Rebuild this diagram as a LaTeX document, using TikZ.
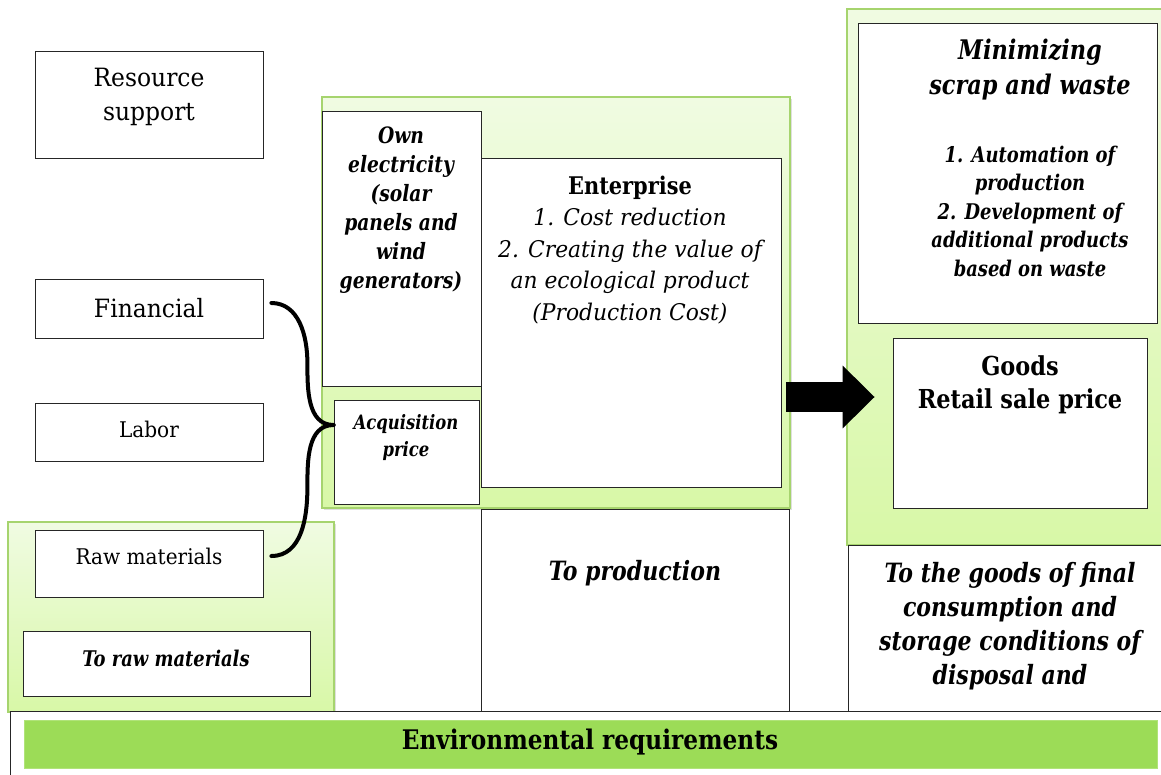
\documentclass[tikz,border=0pt]{standalone}
\usepackage{fontspec}
\setmainfont{DejaVu Serif}[Scale=0.9,
  UprightFeatures={FakeStretch=0.93},
  ItalicFeatures={FakeStretch=0.95},
  BoldFeatures={FakeStretch=0.86},
  BoldItalicFeatures={FakeStretch=0.83}]
\usetikzlibrary{arrows.meta,shadows}

\definecolor{panelTop}{HTML}{F0FBE2}
\definecolor{panelBot}{HTML}{D8F8A7}
\definecolor{panelLine}{HTML}{A6D46E}
\definecolor{envGreen}{HTML}{9CDC57}

\newcommand{\setfs}[2]{\fontsize{#1}{#2}\selectfont}

\tikzset{
  box/.style={draw=black!85, line width=0.8pt, fill=white, inner sep=0pt},
  panel/.style={draw=panelLine, line width=1.2pt, top color=panelTop, bottom color=panelBot, inner sep=0pt,
    drop shadow={shadow xshift=2pt, shadow yshift=-2pt, opacity=0.25}},
  lbl/.style={align=center, inner sep=0pt},
  brace/.style={line width=4pt, line cap=round},
  bigarrow/.style={line width=30pt, -{Triangle[length=32pt, width=61pt]}}
}

\begin{document}
\begin{tikzpicture}[x=1pt, y=-1pt]
\clip (0,0) rectangle (1161,775);

\node[panel, minimum width=326pt, minimum height=190pt] (leftpanel) at (171,617) {};
\node[panel, minimum width=468pt, minimum height=411pt] (midpanel) at (556,302.5) {};
\node[panel, minimum width=319pt, minimum height=536pt] (rightpanel) at (1006.5,277) {};

\node[box, minimum width=228pt, minimum height=107pt] (res) at (149,104.5) {};
\node[box, minimum width=228pt, minimum height=59pt] (fin) at (149,308.5) {};
\node[box, minimum width=228pt, minimum height=58pt] (lab) at (149,432) {};
\node[box, minimum width=228pt, minimum height=67pt] (raw) at (149,563.5) {};
\node[box, minimum width=287pt, minimum height=65pt] (toraw) at (166.5,663.5) {};

\node[box, minimum width=159pt, minimum height=275pt] (own) at (401.5,248.5) {};
\node[box, minimum width=145pt, minimum height=104pt] (acq) at (406.5,452) {};
\node[box, minimum width=300pt, minimum height=329pt] (ent) at (631,322.5) {};
\node[box, minimum width=308pt, minimum height=202pt] (toprod) at (635,610) {};

\node[box, minimum width=299pt, minimum height=300pt] (minim) at (1007.5,173) {};
\node[box, minimum width=254pt, minimum height=170pt] (goods) at (1020,423) {};
\node[box, minimum width=318pt, minimum height=166pt] (togoods) at (1007,628) {};

\node[box, minimum width=1156pt, minimum height=69pt] (envbox) at (588,745.5) {};
\node[draw=envGreen!80!white, fill=envGreen, minimum width=1133pt, minimum height=48pt, inner sep=0pt] (envbar) at (590.5,744) {};

\coordinate (tip) at ([yshift=27pt]acq.west);
\draw[brace] ([xshift=8pt,yshift=5.5pt]fin.east) to[out=0,in=90] ++(36,60) to[out=-90,in=180] (tip);
\draw[brace] ([xshift=8pt,yshift=7.5pt]raw.east) to[out=0,in=-90] ++(36,-69) to[out=90,in=180] (tip);

\draw[bigarrow] ([xshift=5pt,yshift=-74.5pt]ent.east) -- ([xshift=-18pt,yshift=26pt]goods.west);

\node[lbl, font=\setfs{28}{34}] (restxt) at (149,97) {Resource\\support};
\node[lbl, font=\setfs{28}{33}] (fintxt) at (149,308) {Financial};
\node[lbl, font=\setfs{24}{28}] (labtxt) at (149,429) {Labor};
\node[lbl, font=\setfs{24}{28}] (rawtxt) at (149,556) {Raw materials};
\node[lbl, font=\bfseries\itshape\setfs{24}{28}] (torawtxt) at (166,658) {To raw materials};

\node[lbl, font=\bfseries\itshape\setfs{25}{29}] (owntxt) at (401,210) {Own\\electricity\\(solar\\panels and\\wind\\generators)};
\node[lbl, font=\bfseries\itshape\setfs{22}{27}] (acqtxt) at (406,438) {Acquisition\\price};
\node[lbl, font=\itshape\setfs{25.5}{31.5}] (enttxt) at (630,250) {{\upshape\bfseries\setfs{27}{31.5}Enterprise}\\1. Cost reduction\\2. Creating the value of\\an ecological product\\(Production Cost)};
\node[lbl, font=\bfseries\itshape\setfs{29.5}{34}] (toprodtxt) at (635,573) {To production};

\node[lbl, font=\bfseries\itshape\setfs{30}{35}] (mintitle) at (1030,70) {Minimizing\\scrap and waste};
\node[lbl, font=\bfseries\itshape\setfs{24}{28.5}] (minlist) at (1030,211) {1. Automation of\\production\\2. Development of\\additional products\\based on waste};
\node[lbl, font=\bfseries\setfs{29}{33}] (goodstxt) at (1020,385) {Goods\\Retail sale price};
\node[lbl, font=\bfseries\itshape\setfs{29.5}{34}] (togoodstxt) at (1010,626) {To the goods of final\\consumption and\\storage conditions of\\disposal and};

\node[lbl, font=\bfseries\setfs{30}{34}] (envtxt) at (590,742) {Environmental requirements};
\end{tikzpicture}
\end{document}
